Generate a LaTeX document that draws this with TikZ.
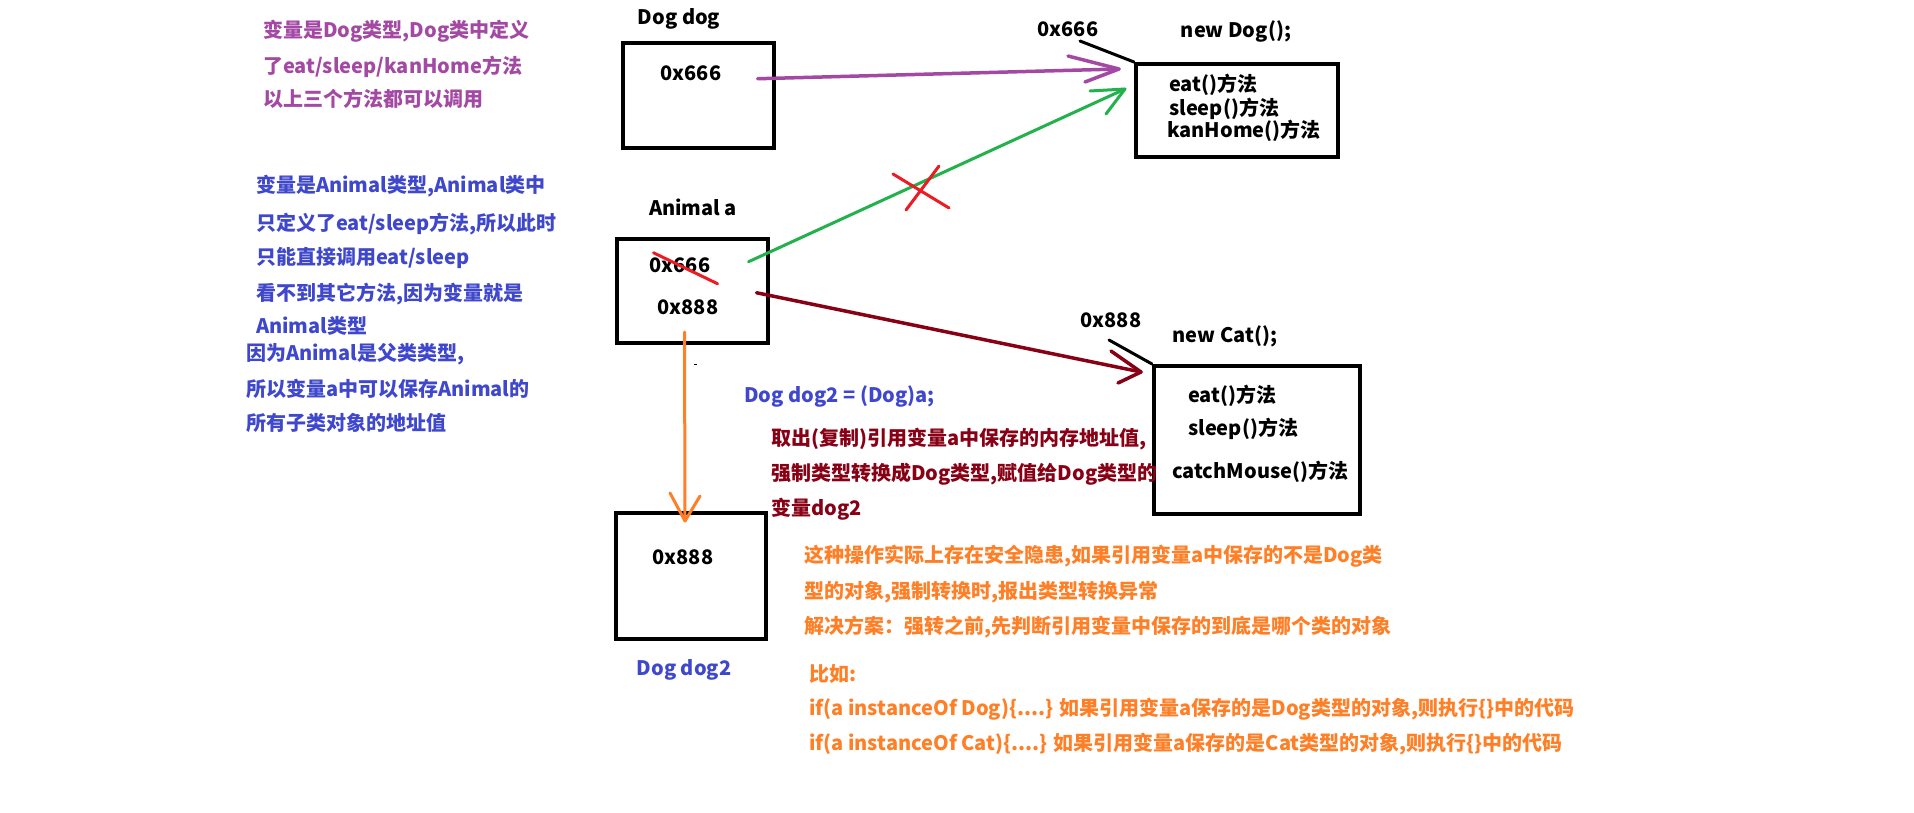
\documentclass[tikz,border=0pt]{standalone}
\usepackage{fontspec}
\setmainfont{Noto Sans CJK SC}
\usetikzlibrary{calc}
\definecolor{cPurple}{RGB}{163,73,164}
\definecolor{cBlue}{RGB}{63,72,204}
\definecolor{cGreen}{RGB}{34,177,76}
\definecolor{cRed}{RGB}{237,28,36}
\definecolor{cDark}{RGB}{136,0,21}
\definecolor{cOrange}{RGB}{255,127,39}
\begin{document}
\begin{tikzpicture}[x=1pt,y=-1pt,
  txt/.style={inner sep=0pt, font=\fontsize{20}{24}\selectfont\bfseries, anchor=base west},
  lbl/.style={inner sep=0pt, font=\fontsize{20}{24}\selectfont\bfseries, anchor=base},
  memobox/.style={draw=black, line width=4pt, inner sep=0pt},
  stroke/.style={line width=3pt, line cap=round, line join=round},
  thick stroke/.style={line width=3.5pt, line cap=round, line join=round}]
\useasboundingbox[fill=white] (0,0) rectangle (1914,813);

% ---------- left explanations ----------
\begin{scope}[every node/.append style={text=cPurple}]
\node[txt] (p1) at (263,38) {变量是Dog类型,Dog类中定义};
\node[txt] (p2) at (263,74) {了eat/sleep/kanHome方法};
\node[txt] (p3) at (263,107) {以上三个方法都可以调用};
\end{scope}
\begin{scope}[every node/.append style={text=cBlue}]
\node[txt] (b1) at (256,193) {变量是Animal类型,Animal类中};
\node[txt] (b2) at (256,230) {只定义了eat/sleep方法,所以此时};
\node[txt] (b3) at (256,264) {只能直接调用eat/sleep};
\node[txt] (b4) at (256,300) {看不到其它方法,因为变量就是};
\node[txt] (b5) at (256,333) {Animal类型};
\node[txt] (b6) at (246,360) {因为Animal是父类类型,};
\node[txt] (b7) at (246,396) {所以变量a中可以保存Animal的};
\node[txt] (b8) at (246,430) {所有子类对象的地址值};
\end{scope}

% ---------- Dog dog ----------
\node[lbl] (tDog) at (679,25) {Dog dog};
\node[memobox, minimum width=151pt, minimum height=105pt] (dogbox) at (698.5,95.5) {};
\node[lbl] (d666) at (691,81) {0x666};

% ---------- Dog object ----------
\node[memobox, minimum width=202pt, minimum height=93pt] (dogobj) at (1237,110.5) {};
\node[lbl] (l666) at (1068,37) {0x666};
\node[lbl] (newDog) at (1236,38) {new Dog();};
\node[txt] (m1) at (1169,92) {eat()方法};
\node[txt] (m2) at (1169,116) {sleep()方法};
\node[txt] (m3) at (1167,138) {kanHome()方法};

% ---------- Animal a ----------
\node[lbl] (tA) at (693,216) {Animal a};
\node[memobox, minimum width=151pt, minimum height=104pt] (abox) at (692.5,291) {};
\node[lbl] (a666) at (680,272) {0x666};
\node[lbl] (a888) at (688,314) {0x888};

% ---------- Cat object ----------
\node[memobox, minimum width=206pt, minimum height=148pt] (catobj) at (1257,440) {};
\node[lbl] (l888) at (1111,327) {0x888};
\node[lbl] (newCat) at (1225,342) {new Cat();};
\node[txt] (c1) at (1188,402) {eat()方法};
\node[txt] (c2) at (1188,435) {sleep()方法};
\node[txt] (c3) at (1172,478) {catchMouse()方法};

% ---------- Dog dog2 ----------
\node[memobox, minimum width=150pt, minimum height=126pt] (dog2box) at (691,576) {};
\node[lbl] (b888) at (683,564) {0x888};
\node[lbl, text=cBlue] (tDog2) at (684,675) {Dog dog2};

% ---------- middle texts ----------
\node[txt, text=cBlue] (cast) at (744,402) {Dog dog2 = (Dog)a;};
\begin{scope}[every node/.append style={text=cDark}]
\node[txt] (r1) at (771,445) {取出(复制)引用变量a中保存的内存地址值,};
\node[txt] (r2) at (771,480) {强制类型转换成Dog类型,赋值给Dog类型的};
\node[txt] (r3) at (771,515) {变量dog2};
\end{scope}
\begin{scope}[every node/.append style={text=cOrange}]
\node[txt] (o1) at (804,562) {这种操作实际上存在安全隐患,如果引用变量a中保存的不是Dog类};
\node[txt] (o2) at (804,598) {型的对象,强制转换时,报出类型转换异常};
\node[txt] (o3) at (804,633) {解决方案：强转之前,先判断引用变量中保存的到底是哪个类的对象};
\node[txt] (o4) at (809,681) {比如:};
\node[txt] (o5) at (809,715) {if(a instanceOf Dog)\{....\} 如果引用变量a保存的是Dog类型的对象,则执行\{\}中的代码};
\node[txt] (o6) at (809,750) {if(a instanceOf Cat)\{....\} 如果引用变量a保存的是Cat类型的对象,则执行\{\}中的代码};
\end{scope}

% ---------- connectors ----------
\coordinate (pT) at ($(dogobj.north west)+(-15,7)$);
\coordinate (gT) at ($(dogobj.north west)+(-9,27)$);
\coordinate (rT) at ($(catobj.north west)+(-11,8)$);
\coordinate (oT) at ($(dog2box.north)+(-6,10)$);

\draw[thick stroke, cPurple] ($(d666.east)+(36,5)$) -- (pT);
\draw[thick stroke, cPurple] (pT) -- +(-51,-13) (pT) -- +(-34,13);

\draw[stroke, cGreen] ($(a666.east)+(38,-3)$) -- (gT);
\draw[stroke, cGreen] (gT) -- +(-35,2) (gT) -- +(-19,25);

\draw[thick stroke, cDark] ($(a888.east)+(38,-14)$) -- (rT);
\draw[thick stroke, cDark] (rT) -- +(-30,-21) (rT) -- +(-23,11);

\draw[stroke, cOrange] ($(abox.south)+(-8,-13)$) -- (oT);
\draw[stroke, cOrange] (oT) -- +(-15,-28) (oT) -- +(15,-25);

% corner ticks
\draw[stroke, black] ($(dogobj.north west)+(-54,-21)$) -- (dogobj.north west);
\draw[stroke, black] ($(catobj.north west)+(-43,-24)$) -- (catobj.north west);

% red crosses
\draw[stroke, cRed] (893,174) -- (949,208) (939,166) -- (906,210);
\draw[stroke, cRed] ($(a666.west)+(4,-12)$) -- ($(a666.east)+(7,19)$);

% tiny dash
\draw[line width=1pt, black] (694,364) -- (697,364);
\end{tikzpicture}
\end{document}
